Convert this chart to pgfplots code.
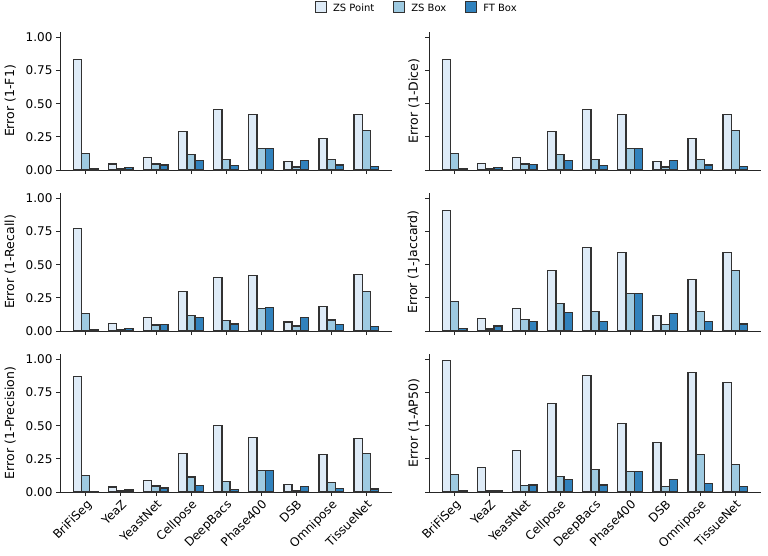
\documentclass[border=0pt]{standalone}
\usepackage{fontspec}
\setmainfont{DejaVu Sans}
\usepackage{pgfplots}
\usepackage{pgfplotstable}
\pgfplotsset{compat=1.18}
\usepgfplotslibrary{groupplots}
\usetikzlibrary{calc}

\definecolor{zsp}{RGB}{222,235,247}
\definecolor{zsb}{RGB}{158,202,225}
\definecolor{ftb}{RGB}{49,130,189}
\definecolor{edgec}{RGB}{50,50,50}

% columns: x ZS-Point ZS-Box FT-Box
\pgfplotstableread{
x zsp zsb ft
0 0.835 0.125 0.008
1 0.045 0.008 0.018
2 0.093 0.045 0.038
3 0.290 0.115 0.073
4 0.458 0.078 0.035
5 0.415 0.163 0.163
6 0.063 0.023 0.070
7 0.238 0.078 0.038
8 0.415 0.295 0.028
}\tF
\pgfplotstableread{
x zsp zsb ft
0 0.835 0.125 0.008
1 0.048 0.008 0.020
2 0.095 0.045 0.040
3 0.293 0.115 0.073
4 0.458 0.078 0.035
5 0.415 0.165 0.165
6 0.063 0.023 0.070
7 0.240 0.078 0.038
8 0.418 0.295 0.028
}\tDice
\pgfplotstableread{
x zsp zsb ft
0 0.773 0.130 0.010
1 0.055 0.010 0.022
2 0.103 0.045 0.048
3 0.300 0.120 0.100
4 0.400 0.080 0.053
5 0.420 0.170 0.175
6 0.068 0.038 0.100
7 0.188 0.083 0.048
8 0.428 0.300 0.033
}\tRecall
\pgfplotstableread{
x zsp zsb ft
0 0.910 0.225 0.018
1 0.093 0.015 0.038
2 0.173 0.085 0.073
3 0.455 0.208 0.138
4 0.628 0.148 0.070
5 0.590 0.285 0.285
6 0.120 0.050 0.133
7 0.388 0.145 0.073
8 0.590 0.458 0.053
}\tJac
\pgfplotstableread{
x zsp zsb ft
0 0.873 0.123 0.005
1 0.038 0.008 0.015
2 0.088 0.045 0.030
3 0.288 0.113 0.048
4 0.503 0.078 0.018
5 0.410 0.160 0.160
6 0.060 0.013 0.043
7 0.283 0.073 0.028
8 0.405 0.293 0.023
}\tPrec
\pgfplotstableread{
x zsp zsb ft
0 0.988 0.130 0.010
1 0.188 0.010 0.010
2 0.313 0.048 0.053
3 0.670 0.120 0.093
4 0.880 0.170 0.053
5 0.518 0.155 0.155
6 0.375 0.043 0.093
7 0.900 0.285 0.065
8 0.825 0.208 0.040
}\tAP

\newcommand{\bars}[1]{%
  \addplot[ybar, /pgf/bar width=0.23, fill=zsp, draw=edgec, line width=1.1pt, /pgf/bar shift=-0.23] table[x=x,y=zsp]{#1};
  \addplot[ybar, /pgf/bar width=0.23, fill=zsb, draw=edgec, line width=1.1pt, /pgf/bar shift=0] table[x=x,y=zsb]{#1};
  \addplot[ybar, /pgf/bar width=0.23, fill=ftb, draw=edgec, line width=1.1pt, /pgf/bar shift=0.23] table[x=x,y=ft]{#1};
}

\begin{document}
\begin{tikzpicture}
\begin{groupplot}[
  group style={group size=2 by 3, horizontal sep=37pt, vertical sep=23pt},
  scale only axis, width=332pt, height=138pt,
  xmin=-0.74, xmax=8.74, ymin=0, ymax=1.04,
  axis x line*=bottom, axis y line*=left,
  axis line style={line width=0.9pt, black!85, -},
  tick style={line width=0.9pt, black!85},
  tick align=outside, major tick length=4pt,
  xtick={0,...,8}, xticklabels={},
  ytick={0,0.25,0.5,0.75,1},
  yticklabel style={/pgf/number format/fixed, /pgf/number format/fixed zerofill, /pgf/number format/precision=2, /pgf/number format/assume math mode=true, font=\fontsize{12}{14}\selectfont},
  ylabel style={font=\fontsize{12.5}{15}\selectfont},
  xticklabel style={font=\fontsize{12}{14}\selectfont, rotate=45, anchor=north east, inner sep=2pt},
  legend image code/.code={\draw[#1, line width=0.9pt] (0pt,-4.5pt) rectangle (11pt,6.5pt); \path (15pt,0pt);},
]
\nextgroupplot[ylabel={Error (1-F1)}, ylabel shift=3pt,
  legend columns=3,
  legend style={draw=none, fill=none, at={(axis description cs:1.075,1.174)}, anchor=center, font=\fontsize{10}{12}\selectfont, /tikz/every even column/.append style={column sep=17pt}},
]
\bars{\tF}
\legend{ZS Point, ZS Box, FT Box}
\nextgroupplot[ylabel={Error (1-Dice)}, yticklabels={}, ylabel shift=-5pt]
\bars{\tDice}
\nextgroupplot[ylabel={Error (1-Recall)}, ylabel shift=3pt]
\bars{\tRecall}
\nextgroupplot[ylabel={Error (1-Jaccard)}, yticklabels={}, ylabel shift=-5pt]
\bars{\tJac}
\nextgroupplot[ylabel={Error (1-Precision)}, ylabel shift=3pt, xticklabels={BriFiSeg,YeaZ,YeastNet,Cellpose,DeepBacs,Phase400,DSB,Omnipose,TissueNet}]
\bars{\tPrec}
\nextgroupplot[ylabel={Error (1-AP50)}, yticklabels={}, ylabel shift=-5pt, xticklabels={BriFiSeg,YeaZ,YeastNet,Cellpose,DeepBacs,Phase400,DSB,Omnipose,TissueNet}]
\bars{\tAP}
\end{groupplot}
\pgfresetboundingbox
\path ($(group c1r1.north west)+(-60pt,32pt)$) rectangle ($(group c2r3.south east)+(7pt,-63pt)$);
\end{tikzpicture}
\end{document}
